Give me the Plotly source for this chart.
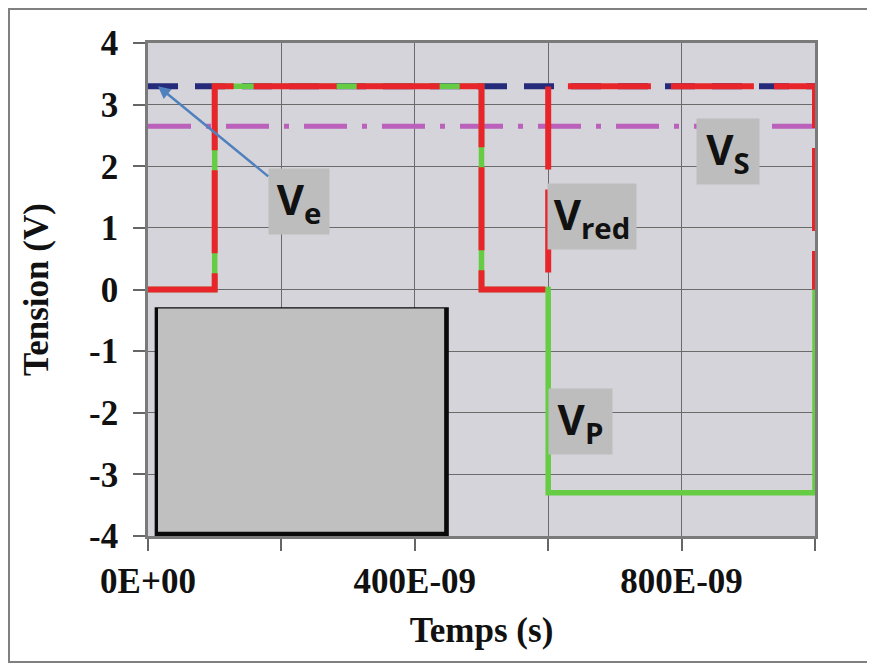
import plotly.graph_objects as go

# ---- data (time in seconds, voltage in volts) ----
t_const = [0, 1000e-9]
v_e = [3.3, 3.3]          # Ve : input (blue dashed)
v_s = [2.65, 2.65]        # Vs : output (magenta dash-dot)

t_steps = [0, 100e-9, 100e-9, 500e-9, 500e-9, 600e-9, 600e-9, 1000e-9, 1000e-9]
v_p   = [0, 0, 3.3, 3.3, 0, 0, -3.3, -3.3, 0]   # Vp (green)
v_red = [0, 0, 3.3, 3.3, 0, 0, 3.3, 3.3, 0]     # Vred (red dashed)

x_tickvals = [0, 400e-9, 800e-9]
x_ticktext = ["0E+00", "400E-09", "800E-09"]
x_minor_step = 200e-9
y_tickvals = [-4, -3, -2, -1, 0, 1, 2, 3, 4]
y_ticktext = ["-4", "-3", "-2", "-1", "0", "1", "2", "3", "4"]

labels = ["V<sub>red</sub>", "V<sub>S</sub>", "V<sub>P</sub>"]
label_x = [666e-9, 870e-9, 648e-9]
label_y = [1.19, 2.24, -2.14]
label_w = [88, 62, 63]

ve_label = "V<sub>e</sub>"
ve_label_pos = (226e-9, 1.43)
ve_arrow_target = (15e-9, 3.3)

# ---- figure ----
fig = go.Figure()
fig.add_trace(go.Scatter(x=t_const, y=v_e, mode="lines", name="Ve",
                         line=dict(color="#252a7a", width=6, dash="30px,17px")))
fig.add_trace(go.Scatter(x=t_const, y=v_s, mode="lines", name="Vs",
                         line=dict(color="#bb60bb", width=5, dash="43px,15px,5px,15px")))
fig.add_trace(go.Scatter(x=t_steps, y=v_p, mode="lines", name="Vp",
                         line=dict(color="#66cc44", width=5.5)))
fig.add_trace(go.Scatter(x=t_steps, y=v_red, mode="lines", name="Vred",
                         line=dict(color="#e8252a", width=6, dash="83px,20px")))

serif_bold = dict(family="Liberation Serif", size=35, color="#111111", weight="bold")

fig.update_layout(
    width=875, height=666,
    margin=dict(l=140, r=68, t=35, b=138),
    paper_bgcolor="white",
    plot_bgcolor="#d5d4da",
    showlegend=False,
    xaxis=dict(
        range=[0, 1000e-9],
        tickvals=x_tickvals, ticktext=x_ticktext,
        ticks="outside", ticklen=12, tickwidth=1.5, tickcolor="#666666",
        minor=dict(dtick=x_minor_step, tick0=0, ticks="outside", ticklen=12,
                   tickwidth=1.5, tickcolor="#666666",
                   showgrid=True, gridcolor="#6a6a6a", gridwidth=1),
        showgrid=True, gridcolor="#6a6a6a", gridwidth=1,
        showline=True, linecolor="#7a7a7a", linewidth=2.5, mirror=True,
        zeroline=False,
        tickfont=serif_bold,
        title=dict(text="Temps (s)", font=serif_bold, standoff=18),
    ),
    yaxis=dict(
        range=[-4, 4],
        tickvals=y_tickvals, ticktext=y_ticktext,
        ticks="outside", ticklen=12, tickwidth=1.5, tickcolor="#666666",
        ticklabelstandoff=8,
        showgrid=True, gridcolor="#6a6a6a", gridwidth=1,
        showline=True, linecolor="#7a7a7a", linewidth=2.5, mirror=True,
        zeroline=False,
        tickfont=serif_bold,
        title=dict(text="Tension (V)", font=serif_bold, standoff=30),
    ),
)

# outer frame (right side runs past the visible window)
fig.add_shape(type="rect", xref="paper", yref="paper",
              x0=-0.2084, x1=1.25, y0=-0.2556, y1=1.069,
              line=dict(color="#808080", width=2), fillcolor="rgba(0,0,0,0)",
              layer="below")

# covered box (hidden legend area): shadow + gray fill
fig.add_shape(type="rect", xref="x", yref="y",
              x0=10e-9, x1=451e-9, y0=-4.0, y1=-0.29,
              line=dict(width=0), fillcolor="#0a0a0a", layer="above")
fig.add_shape(type="rect", xref="x", yref="y",
              x0=15e-9, x1=444e-9, y0=-3.93, y1=-0.31,
              line=dict(width=0), fillcolor="#c0c0c0", layer="above")

label_font = dict(family="Open Sans", size=42, color="#111111", weight="bold")

# Ve label with arrow pointing to the Ve line
fig.add_annotation(x=ve_arrow_target[0], y=ve_arrow_target[1],
                   ax=ve_label_pos[0], ay=ve_label_pos[1],
                   xref="x", yref="y", axref="x", ayref="y",
                   text=ve_label, showarrow=True, arrowhead=2, arrowsize=1,
                   arrowwidth=2.5, arrowcolor="#4f81bd",
                   bgcolor="#bdbdbd", width=60, height=65, borderpad=0,
                   font=label_font)

for txt, lx, ly, w in zip(labels, label_x, label_y, label_w):
    fig.add_annotation(x=lx, y=ly, xref="x", yref="y", text=txt,
                       showarrow=False, bgcolor="#bdbdbd", width=w, height=65,
                       borderpad=0, align="center", valign="middle",
                       font=label_font)

fig.write_html("out.html")
